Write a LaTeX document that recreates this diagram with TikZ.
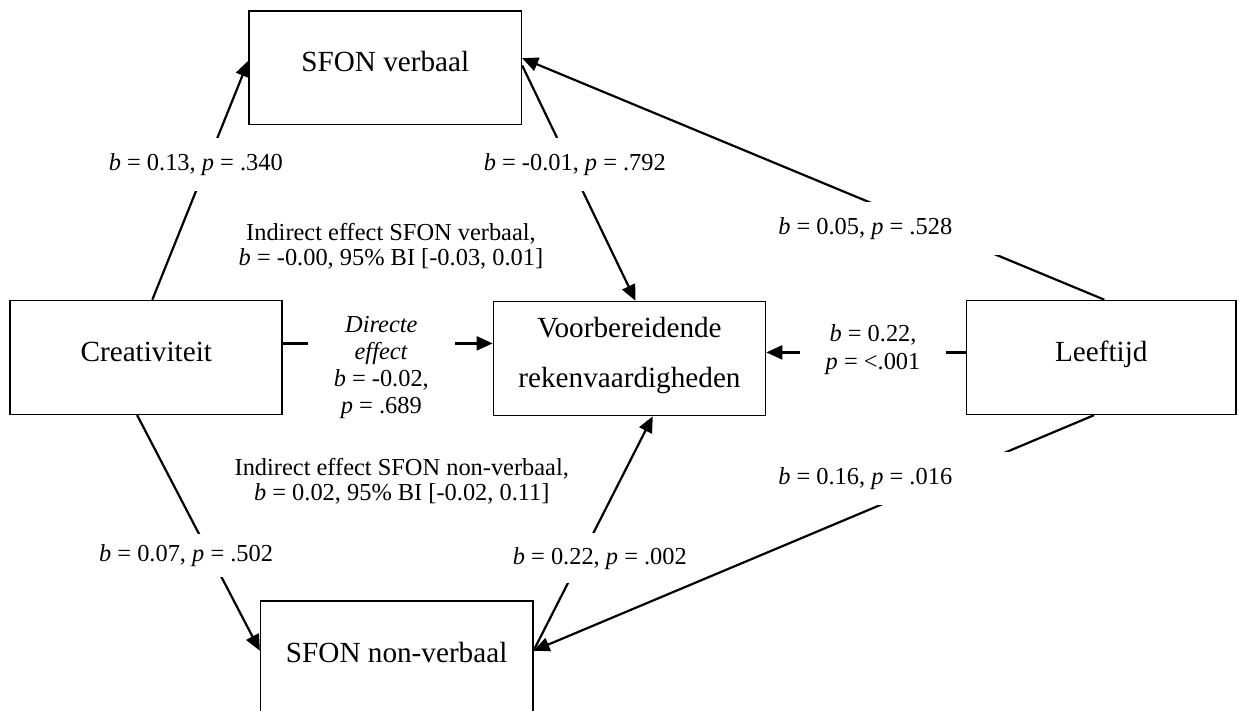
\documentclass[tikz,border=0pt]{standalone}
\usepackage{fontspec}
\setmainfont{Liberation Serif}
\usepackage{tikz}
\usetikzlibrary{arrows.meta}
\newcommand{\bpval}[2]{\textit{b} = #1, \textit{p} = #2}

\begin{document}
\begin{tikzpicture}[>={Triangle[length=8pt,width=7pt]},
   box/.style={draw, line width=0.8pt, minimum width=4.78cm, minimum height=2cm, align=center, text depth=6pt, font=\fontsize{14.6pt}{25pt}\selectfont},
   lbl/.style={fill=white, inner sep=3pt, align=center, font=\fontsize{12.2pt}{14pt}\selectfont},
   wide/.style={lbl, align=flush left, text width=113pt, inner xsep=4pt, minimum height=0.93cm},
   conn/.style={->, line width=1.1pt}]
  \useasboundingbox (0,0) rectangle (21.77,12.48);
  \fill[white] (0,0) rectangle (21.77,12.48);
  \node[box] (sv) at (6.77,11.29) {SFON verbaal};
  \node[box] (cr) at (2.57,6.20) {Creativiteit};
  \node[box] (vr) at (11.06,6.18) {Voorbereidende\\rekenvaardigheden};
  \node[box, minimum width=4.74cm] (lf) at (19.35,6.20) {Leeftijd};
  \node[box] (snv) at (6.97,0.92) {SFON non-verbaal};
  \draw[conn] (cr.84) -- (sv.177); \draw[conn] (sv.1) -- (vr.84);
  \draw[conn] (lf.87) -- (sv.4);
  \draw[conn] (cr.261) -- (snv.177); \draw[conn] (snv.3) -- (vr.292);
  \draw[conn] (lf.263) -- (snv.3);
  \draw[conn] ([yshift=7pt]cr.east) -- ([yshift=7pt]cr.east -| vr.west);
  \draw[conn] ([yshift=2.5pt]lf.west) -- ([yshift=2.5pt]lf.west -| vr.east);
  \node[lbl, minimum height=0.93cm] (l13) at (3.44,9.59) {\bpval{0.13}{.340}};
  \node[lbl, minimum height=0.93cm] (l01) at (10.10,9.59) {\bpval{-0.01}{.792}};
  \node[wide] (l05) at (15.66,8.46) {\bpval{0.05}{.528}};
  \node[wide] (l16) at (15.66,4.07) {\bpval{0.16}{.016}};
  \node[lbl, minimum height=0.77cm] (l07) at (3.27,2.72) {\bpval{0.07}{.502}};
  \node[lbl, minimum height=0.88cm] (l22) at (10.54,2.67) {\bpval{0.22}{.002}};
  \node[lbl, minimum width=2.58cm, font=\fontsize{12.2pt}{13.5pt}\selectfont] (dir) at (6.70,6.02)
    {\textit{Directe}\\\textit{effect}\\\textit{b} = -0.02,\\\textit{p} = .689};
  \node[lbl, minimum width=2.57cm] (age) at (15.34,6.34) {\textit{b} = 0.22,\\\textit{p} = <.001};
  \node[lbl, font=\fontsize{12.2pt}{12.5pt}\selectfont] (ind1) at (6.87,8.16)
    {Indirect effect SFON verbaal,\\\textit{b} = -0.00, 95\% BI [-0.03, 0.01]};
  \node[lbl, font=\fontsize{12.2pt}{12.5pt}\selectfont] (ind2) at (7.06,4.03)
    {Indirect effect SFON non-verbaal,\\\textit{b} = 0.02, 95\% BI [-0.02, 0.11]};
\end{tikzpicture}
\end{document}
